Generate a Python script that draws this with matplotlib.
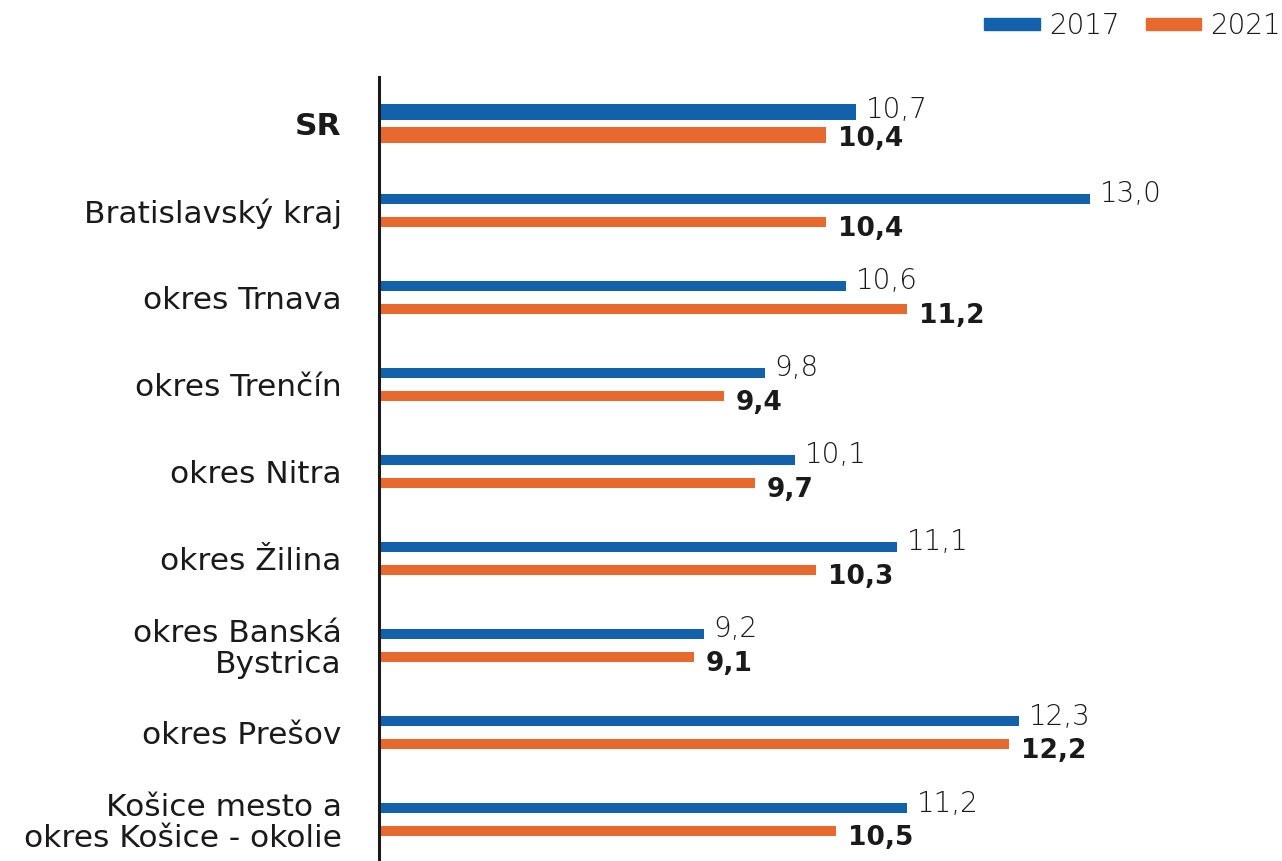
import matplotlib.pyplot as plt
from matplotlib.patches import Patch

# Data
categories = ['SR', 'Bratislavský kraj', 'okres Trnava', 'okres Trenčín', 'okres Nitra',
              'okres Žilina', 'okres Banská\nBystrica', 'okres Prešov',
              'Košice mesto a\nokres Košice - okolie']
values_2017 = [10.7, 13.0, 10.6, 9.8, 10.1, 11.1, 9.2, 12.3, 11.2]
values_2021 = [10.4, 10.4, 11.2, 9.4, 9.7, 10.3, 9.1, 12.2, 10.5]
series_labels = ['2017', '2021']

BLUE = '#1261AA'
ORANGE = '#E8692E'
TEXT = '#1a1a1a'

plt.rcParams['font.family'] = ['DejaVu Sans']

fig = plt.figure(figsize=(12.82, 8.61), dpi=100)
ax = fig.add_axes([378.5 / 1282, 0, 1 - 378.5 / 1282, 1 - 77.3 / 861])

offset = 0.132
y = list(range(len(categories)))
heights = [0.184 if c == 'SR' else 0.115 for c in categories]
y_blue = [i - offset for i in y]
y_orange = [i + offset for i in y]

ax.barh(y_blue, values_2017, height=heights, color=BLUE, left=0)
ax.barh(y_orange, values_2021, height=heights, color=ORANGE, left=0)

# value labels: 2017 light above the bar end, 2021 bold below
for yb, v, h in zip(y_blue, values_2017, heights):
    ax.annotate(f'{v:.1f}'.replace('.', ','), xy=(v, yb + h / 2), xytext=(10, 1.5),
                textcoords='offset pixels', ha='left', va='baseline',
                fontsize=20, fontweight='light', color=TEXT)
for yo, v, h in zip(y_orange, values_2021, heights):
    ax.annotate(f'{v:.1f}'.replace('.', ','), xy=(v, yo - h / 2), xytext=(12, 1),
                textcoords='offset pixels', ha='left', va='top',
                fontsize=19, fontweight='bold', color=TEXT)

ax.set_xlim(6, 14.89)
ax.set_ylim(len(categories) - 1 + 0.477, -0.53)

ax.set_yticks(y)
ax.set_yticklabels(categories, fontsize=22.5, color=TEXT, linespacing=1.05)
ax.get_yticklabels()[0].set_fontweight('bold')
ax.tick_params(axis='y', length=0, pad=26.5)
ax.set_xticks([])

for side in ['top', 'right', 'bottom']:
    ax.spines[side].set_visible(False)
ax.spines['left'].set_linewidth(2.2)
ax.spines['left'].set_color(TEXT)

handles = [Patch(color=BLUE), Patch(color=ORANGE)]
fig.legend(handles, series_labels, loc='center right', bbox_to_anchor=(0.999, 0.970),
           ncol=2, frameon=False, handlelength=2.0, handleheight=0.29,
           handletextpad=0.32, columnspacing=0.94, borderpad=0, borderaxespad=0,
           prop={'size': 20, 'weight': 'light'})
for t in fig.legends[0].get_texts():
    t.set_color(TEXT)

fig.savefig('out.png', dpi=100)
